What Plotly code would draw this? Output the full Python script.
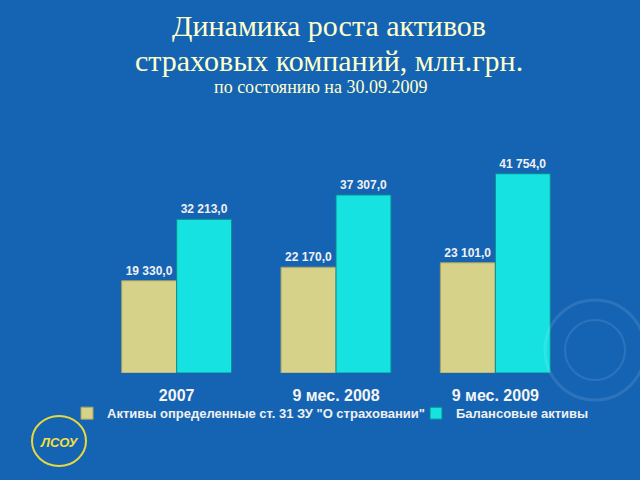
import plotly.graph_objects as go

categories = ["2007", "9 мес. 2008", "9 мес. 2009"]
series_names = ['Активы определенные ст. 31 ЗУ "О страховании"', "Балансовые активы"]
assets_31 = [19330.0, 22170.0, 23101.0]
balance_assets = [32213.0, 37307.0, 41754.0]

def fmt(v):
    s = f"{v:,.1f}"
    return s.replace(",", " ").replace(".", ",")

label_font = dict(family="Liberation Sans", size=12, color="#f0f0f0", weight="bold")

fig = go.Figure()
fig.add_trace(go.Bar(
    x=categories, y=assets_31, name=series_names[0],
    marker=dict(color="#d6d28a", line=dict(color="#a9a35e", width=1)),
    text=[fmt(v) for v in assets_31], textposition="outside",
    textfont=label_font, cliponaxis=False, legend="legend",
))
fig.add_trace(go.Bar(
    x=categories, y=balance_assets, name=series_names[1],
    marker=dict(color="#16e2e2", line=dict(color="#0a8a8a", width=1)),
    text=[fmt(v) for v in balance_assets], textposition="outside",
    textfont=label_font, cliponaxis=False, legend="legend2",
))

title_color = "#ffffcc"
title_lines = [
    ("Динамика роста активов", 0.485, 25, 30),
    ("страховых компаний, млн.грн.", 0.485, 60, 30),
    ("по состоянию на 30.09.2009", 0.468, 87, 18),
]
anns = []
for text, x, ypx, size in title_lines:
    anns.append(dict(
        text=text, xref="paper", yref="paper", x=x,
        y=1 + (163 - ypx) / 210.0, xanchor="center", yanchor="middle",
        showarrow=False, font=dict(family="Liberation Serif", color=title_color, size=size),
    ))
# logo text
anns.append(dict(text="<b><i>ЛСОУ</i></b>", xref="paper", yref="paper",
                 x=(59 - 97) / 478.0, y=-(442 - 373) / 210.0, xanchor="center", yanchor="middle",
                 showarrow=False, font=dict(family="Liberation Sans", size=13, color="#f2e040")))

legend_font = dict(family="Liberation Sans", size=13, color="#f0f0f0", weight="bold")
fig.update_layout(
    width=640, height=480,
    margin=dict(l=97, r=65, t=163, b=107),
    paper_bgcolor="#1564b4", plot_bgcolor="rgba(0,0,0,0)",
    barmode="group", bargap=0.31, bargroupgap=0,
    showlegend=True,
    legend=dict(orientation="h", x=(67 - 97) / 478.0, xanchor="left", y=-0.12, yanchor="top",
                font=legend_font, bgcolor="rgba(0,0,0,0)", itemwidth=30),
    legend2=dict(orientation="h", x=(416 - 97) / 478.0, xanchor="left", y=-0.12, yanchor="top",
                 font=legend_font, bgcolor="rgba(0,0,0,0)", itemwidth=30),
    xaxis=dict(showgrid=False, showline=False, zeroline=False, ticks="",
               tickfont=dict(family="Liberation Sans", size=16, color="#f4f4f4", weight="bold"),
               ticklabelstandoff=11),
    yaxis=dict(range=[0, 44000], visible=False, showgrid=False),
    annotations=anns,
    shapes=[
        dict(type="circle", xref="paper", yref="paper",
             x0=(32 - 97) / 478.0, x1=(86 - 97) / 478.0,
             y0=-(466 - 373) / 210.0, y1=-(416 - 373) / 210.0,
             line=dict(color="#e8d840", width=2)),
        dict(type="circle", xref="paper", yref="paper",
             x0=(545 - 97) / 478.0, x1=(645 - 97) / 478.0,
             y0=-(400 - 373) / 210.0, y1=(373 - 300) / 210.0,
             line=dict(color="rgba(255,255,255,0.10)", width=3)),
        dict(type="circle", xref="paper", yref="paper",
             x0=(565 - 97) / 478.0, x1=(625 - 97) / 478.0,
             y0=-(380 - 373) / 210.0, y1=(373 - 320) / 210.0,
             line=dict(color="rgba(255,255,255,0.10)", width=2)),
    ],
)

fig.write_html("out.html")
